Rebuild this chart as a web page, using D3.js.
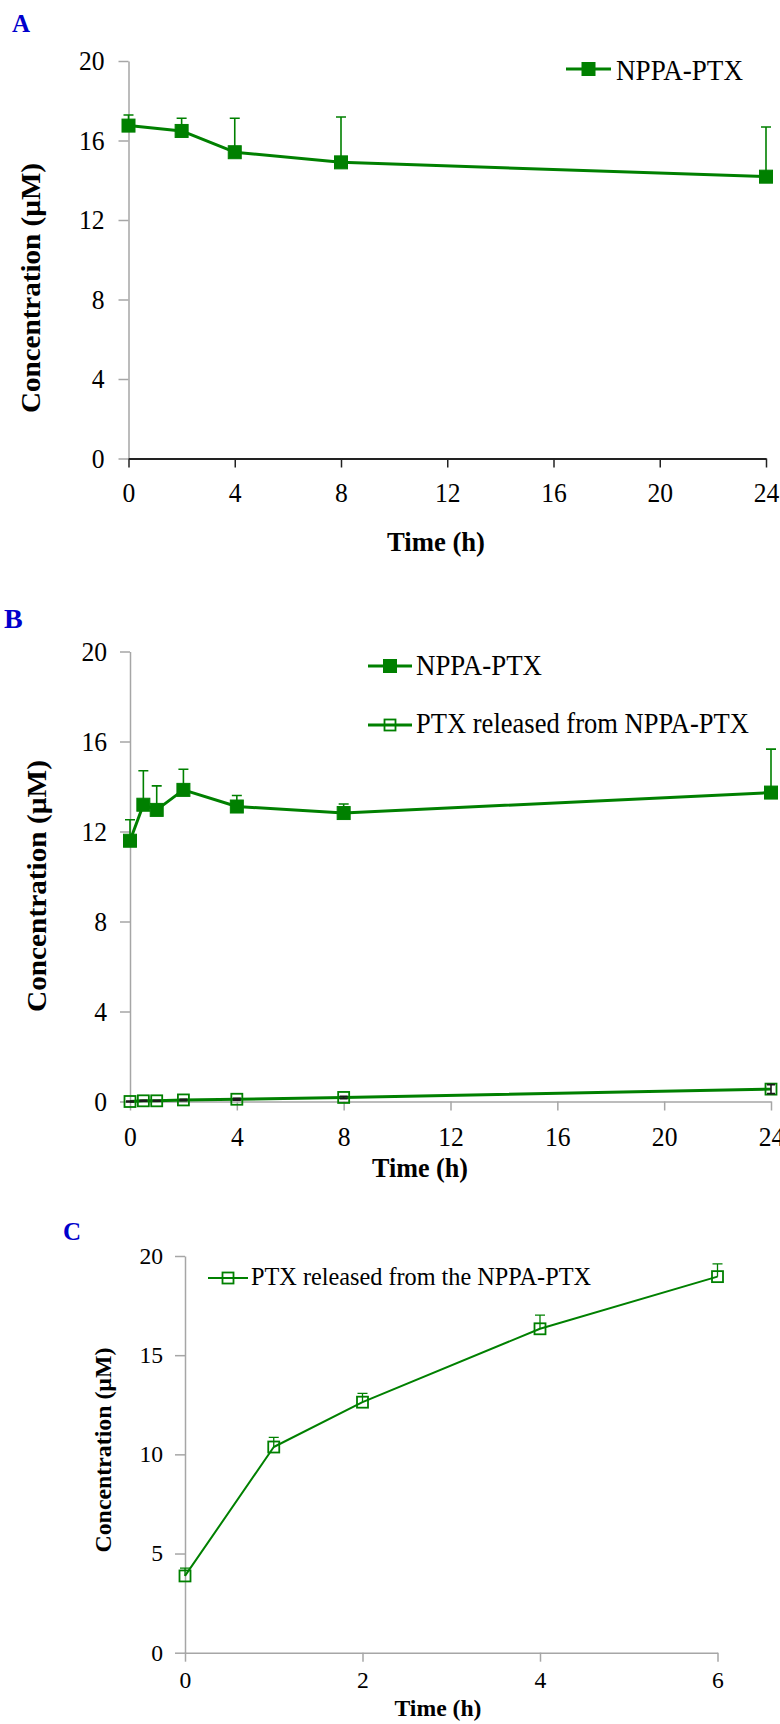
<!DOCTYPE html>
<html>
<head>
<meta charset="utf-8">
<script src="https://cdn.jsdelivr.net/npm/d3@7"></script>
<style>
  body { margin: 0; background: #fff; }
  svg { display: block; }
  svg text { font-family: "Liberation Serif", "Times New Roman", Times, serif; }
</style>
</head>
<body>
<div id="chart"></div>
<script>
// Panel A: NPPA-PTX
const timeA = [0, 2, 4, 8, 24];
const nppaA = [16.75, 16.48, 15.41, 14.90, 14.18];
const nppaAErr = [0.53, 0.64, 1.71, 2.28, 2.50];

// Panel B: NPPA-PTX and released PTX
const timeB = [0, 0.5, 1, 2, 4, 8, 24];
const nppaB = [11.59, 13.19, 12.96, 13.85, 13.11, 12.82, 13.73];
const nppaBErr = [0.93, 1.51, 1.07, 0.92, 0.49, 0.40, 1.93];
const ptxB = [0.00, 0.03, 0.03, 0.07, 0.10, 0.18, 0.55];
const ptxBErr = [0.02, 0.02, 0.02, 0.03, 0.04, 0.05, 0.20];

// Panel C: released PTX
const timeC = [0, 1, 2, 4, 6];
const ptxC = [3.87, 10.37, 12.63, 16.33, 18.96];
const ptxCErr = [0.39, 0.49, 0.44, 0.69, 0.64];

// Tick labels
const hourTicks = [0, 4, 8, 12, 16, 20, 24];
const concTicks = [0, 4, 8, 12, 16, 20];
const hourTicksC = [0, 2, 4, 6];
const concTicksC = [0, 5, 10, 15, 20];

const serif = '"Liberation Serif", "Times New Roman", Times, serif';
const green = "#008000",
  grey = "#a6a6a6",
  blue = "#0000cc";

const svg = d3.select("#chart")
  .append("svg")
  .attr("width", 780)
  .attr("height", 1724)
  .attr("font-family", serif);

function drawPanel(o) {
  const x = d3.scaleLinear().domain(o.xDomain).range(o.xRange);
  const y = d3.scaleLinear().domain(o.yDomain).range(o.yRange);
  const g = svg.append("g");

  // Axes
  const yAxis = g.append("g")
    .attr("transform", `translate(${o.xRange[0]},0)`)
    .call(d3.axisLeft(y).tickValues(o.yTicks).tickFormat(d3.format("d"))
      .tickSize(10).tickSizeOuter(0).tickPadding(o.yPad));
  const xAxis = g.append("g")
    .attr("transform", `translate(0,${o.yRange[0]})`)
    .call(d3.axisBottom(x).tickValues(o.xTicks).tickFormat(d3.format("d"))
      .tickSize(9).tickSizeOuter(0).tickPadding(o.xPad));

  yAxis.select(".domain").attr("stroke", grey).attr("stroke-width", 1.5);
  yAxis.selectAll(".tick line").attr("stroke", grey).attr("stroke-width", 1.5);
  xAxis.select(".domain").attr("stroke", o.xAxisColor || grey).attr("stroke-width", o.xAxisWidth || 1.5);
  xAxis.selectAll(".tick line").attr("stroke", o.xAxisColor || grey).attr("stroke-width", 1.5);
  g.selectAll(".tick text")
    .attr("fill", "#000")
    .style("font-family", serif)
    .style("font-size", o.tickFont + "px")
    .attr("textLength", function () { return this.textContent.length * o.digitW; })
    .attr("lengthAdjust", "spacingAndGlyphs");

  // Axis titles
  g.append("text")
    .attr("x", o.xTitle[0]).attr("y", o.xTitle[1])
    .attr("text-anchor", "middle")
    .style("font-weight", "bold")
    .style("font-size", o.titleFont + "px")
    .attr("textLength", o.xTitle[2]).attr("lengthAdjust", "spacingAndGlyphs")
    .text("Time (h)");
  g.append("text")
    .attr("transform", `translate(${o.yTitle[0]},${o.yTitle[1]}) rotate(-90)`)
    .attr("text-anchor", "middle")
    .style("font-weight", "bold")
    .style("font-size", o.titleFont + "px")
    .attr("textLength", o.yTitle[2]).attr("lengthAdjust", "spacingAndGlyphs")
    .text("Concentration (\u00b5M)");

  // Panel letter
  g.append("text")
    .attr("x", o.letter[0]).attr("y", o.letter[1])
    .style("font-weight", "bold")
    .style("font-size", o.letter[2] + "px")
    .attr("fill", blue)
    .text(o.letter[3]);

  o.series.forEach(s => drawSeries(g, x, y, s));
  o.legend.forEach(l => drawLegend(g, l));
}

function drawMarker(sel, s) {
  sel.attr("width", s.size).attr("height", s.size)
    .attr("fill", s.filled ? green : "none")
    .attr("stroke", green)
    .attr("stroke-width", s.filled ? 1 : s.markerStroke);
}

function drawSeries(g, x, y, s) {
  const data = s.t.map((t, i) => ({ t: t, v: s.v[i], e: s.err[i] }));

  // Error bars
  const eb = g.append("g")
    .attr("stroke", s.errColor)
    .attr("stroke-width", s.errWidth)
    .attr("fill", "none");
  eb.selectAll(".err").data(data).enter().append("path")
    .attr("d", d => {
      const cx = x(d.t), top = y(d.v + d.e), bot = y(s.both ? d.v - d.e : d.v), c = s.cap / 2;
      let p = `M${cx},${bot}V${top}M${cx - c},${top}H${cx + c}`;
      if (s.both) p += `M${cx - c},${bot}H${cx + c}`;
      return p;
    });

  g.append("path")
    .datum(data)
    .attr("fill", "none")
    .attr("stroke", green)
    .attr("stroke-width", s.lineWidth)
    .attr("stroke-linejoin", "round")
    .attr("d", d3.line().x(d => x(d.t)).y(d => y(d.v)));

  g.selectAll(null).data(data).enter().append("rect")
    .attr("x", d => x(d.t) - s.size / 2)
    .attr("y", d => y(d.v) - s.size / 2)
    .call(drawMarker, s);

  // open markers: keep the small error bars visible above them
  if (s.errOnTop) g.node().appendChild(eb.node());
}

function drawLegend(g, l) {
  g.append("line")
    .attr("x1", l.x0).attr("x2", l.x1)
    .attr("y1", l.y).attr("y2", l.y)
    .attr("stroke", green)
    .attr("stroke-width", l.s.lineWidth);
  g.append("rect")
    .attr("x", (l.x0 + l.x1) / 2 - l.s.size / 2)
    .attr("y", l.y - l.s.size / 2)
    .call(drawMarker, l.s);
  g.append("text")
    .attr("x", l.tx).attr("y", l.ty)
    .style("font-size", l.font + "px")
    .attr("textLength", l.len).attr("lengthAdjust", "spacingAndGlyphs")
    .text(l.label);
}

const filledStyle = { filled: true, size: 13, lineWidth: 3, errWidth: 1.6, errColor: green, cap: 10 };
const openStyle = { filled: false, size: 11, markerStroke: 1.8, lineWidth: 3, errWidth: 1.6, errColor: "#1a1a1a", cap: 8, both: true, errOnTop: true };
const openStyleC = { filled: false, size: 11, markerStroke: 1.8, lineWidth: 2, errWidth: 1.3, errColor: green, cap: 10 };

drawPanel({
  xDomain: [0, 24], xRange: [128.5, 766],
  yDomain: [0, 20], yRange: [458.5, 61],
  xTicks: hourTicks, yTicks: concTicks,
  yPad: 14, xPad: 15, tickFont: 28, digitW: 12.8,
  xAxisColor: "#222", xAxisWidth: 2,
  titleFont: 27,
  xTitle: [436, 551, 98], yTitle: [40, 288, 250],
  letter: [12, 32, 25, "A"],
  series: [Object.assign({ t: timeA, v: nppaA, err: nppaAErr }, filledStyle)],
  legend: [{ x0: 566, x1: 611, y: 69, s: filledStyle, tx: 616, ty: 80, font: 29, len: 127, label: "NPPA-PTX" }]
});

drawPanel({
  xDomain: [0, 24], xRange: [130, 771],
  yDomain: [0, 20], yRange: [1101.5, 651.5],
  xTicks: hourTicks, yTicks: concTicks,
  yPad: 13, xPad: 16, tickFont: 28, digitW: 12.8,
  titleFont: 27,
  xTitle: [420, 1177, 96], yTitle: [46, 886, 252],
  letter: [4, 628, 28, "B"],
  series: [
    Object.assign({ t: timeB, v: ptxB, err: ptxBErr }, openStyle),
    Object.assign({ t: timeB, v: nppaB, err: nppaBErr }, filledStyle)
  ],
  legend: [
    { x0: 368, x1: 412, y: 666, s: filledStyle, tx: 416, ty: 675, font: 29, len: 126, label: "NPPA-PTX" },
    { x0: 368, x1: 412, y: 725, s: openStyle, tx: 416, ty: 733, font: 29, len: 333, label: "PTX released from NPPA-PTX" }
  ]
});

drawPanel({
  xDomain: [0, 6], xRange: [185, 717.5],
  yDomain: [0, 20], yRange: [1652.7, 1256],
  xTicks: hourTicksC, yTicks: concTicksC,
  yPad: 12, xPad: 10, tickFont: 23, digitW: 11.8,
  titleFont: 23,
  xTitle: [438, 1716, 87], yTitle: [111, 1450, 205],
  letter: [63, 1240, 25, "C"],
  series: [Object.assign({ t: timeC, v: ptxC, err: ptxCErr }, openStyleC)],
  legend: [{ x0: 208, x1: 248, y: 1278, s: openStyleC, tx: 251, ty: 1285, font: 25, len: 340, label: "PTX released from the NPPA-PTX" }]
});
</script>
</body>
</html>
